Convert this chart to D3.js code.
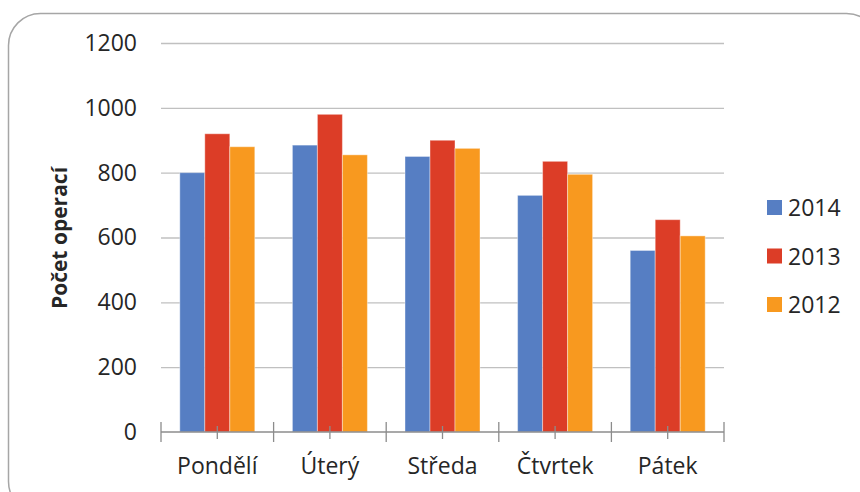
<!DOCTYPE html>
<html>
<head>
<meta charset="utf-8">
<script src="https://d3js.org/d3.v7.min.js"></script>
<style>
  body { margin: 0; background: #fff; }
  text { font-family: "Open Sans", sans-serif; fill: #262626; }
</style>
</head>
<body>
<script>
var days = ["Pondělí", "Úterý", "Středa", "Čtvrtek", "Pátek"];
var years = ["2014", "2013", "2012"];
var values2014 = [800, 885, 850, 730, 560];
var values2013 = [920, 980, 900, 835, 655];
var values2012 = [880, 855, 875, 795, 605];
var yTicks = [0, 200, 400, 600, 800, 1000, 1200];
var colors = ["#567ec3", "#dc3d27", "#f8991f"];

var width = 860, height = 492;
var plotLeft = 161, plotRight = 724, plotTop = 43, plotBottom = 432;

var svg = d3.select("body").append("svg")
  .attr("width", width)
  .attr("height", height);

// chart frame
svg.append("rect")
  .attr("x", 8.5).attr("y", 13.5)
  .attr("width", 870).attr("height", 500)
  .attr("rx", 32).attr("ry", 32)
  .attr("fill", "none")
  .attr("stroke", "#a6a6a6")
  .attr("stroke-width", 1.5);

var x = d3.scaleBand().domain(days).range([plotLeft, plotRight]).paddingInner(0).paddingOuter(0);
var xInner = d3.scaleBand().domain(years).range([0, 75]);
var y = d3.scaleLinear().domain([0, 1200]).range([plotBottom, plotTop]);

// gridlines
svg.append("g").selectAll("line")
  .data(yTicks.filter(function(d){ return d > 0; }))
  .enter().append("line")
  .attr("x1", plotLeft).attr("x2", plotRight)
  .attr("y1", function(d){ return y(d) + 0.5; })
  .attr("y2", function(d){ return y(d) + 0.5; })
  .attr("stroke", "#c0c0c0")
  .attr("stroke-width", 1.3);

// y labels
var yAxis = d3.axisLeft(y).tickValues(yTicks).tickFormat(d3.format("d")).tickSize(0).tickPadding(24);
var yg = svg.append("g").attr("transform", "translate(" + plotLeft + ",0)").call(yAxis);
yg.select(".domain").remove();
yg.selectAll("text")
  .attr("font-size", 23)
  .attr("font-family", "Open Sans, sans-serif")
  .attr("fill", "#262626");

// bars
var series = [values2014, values2013, values2012];
var groups = svg.append("g").selectAll("g")
  .data(series)
  .enter().append("g")
  .attr("fill", function(d, i){ return colors[i]; });

groups.selectAll("rect")
  .data(function(d, i){ return d.map(function(v, j){ return {day: days[j], year: years[i], v: v}; }); })
  .enter().append("rect")
  .attr("x", function(d){ return x(d.day) + (x.bandwidth() - 75) / 2 + xInner(d.year); })
  .attr("width", xInner.bandwidth())
  .attr("y", function(d){ return y(d.v); })
  .attr("height", function(d){ return y(0) - y(d.v); })
  .attr("stroke", "#ffffff")
  .attr("stroke-opacity", 0.4)
  .attr("stroke-width", 1);

// x axis line + ticks
var xg = svg.append("g");
xg.append("line")
  .attr("x1", plotLeft).attr("x2", plotRight)
  .attr("y1", plotBottom).attr("y2", plotBottom)
  .attr("stroke", "#8c8c8c").attr("stroke-width", 1.5);

var edges = days.map(function(d){ return x(d); }).concat([plotRight]);
xg.selectAll("line.edge")
  .data(edges).enter().append("line")
  .attr("class", "edge")
  .attr("x1", function(d){ return d; }).attr("x2", function(d){ return d; })
  .attr("y1", plotBottom - 10).attr("y2", plotBottom + 10)
  .attr("stroke", "#8c8c8c").attr("stroke-width", 1.3);

xg.selectAll("line.mid")
  .data(days).enter().append("line")
  .attr("class", "mid")
  .attr("x1", function(d){ return x(d) + x.bandwidth() / 2; })
  .attr("x2", function(d){ return x(d) + x.bandwidth() / 2; })
  .attr("y1", plotBottom - 6).attr("y2", plotBottom + 7)
  .attr("stroke", "#8c8c8c").attr("stroke-width", 1.3);

xg.selectAll("text")
  .data(days).enter().append("text")
  .attr("x", function(d){ return x(d) + x.bandwidth() / 2; })
  .attr("y", 474)
  .attr("text-anchor", "middle")
  .attr("font-size", 23)
  .text(function(d){ return d; });

// y title
svg.append("text")
  .attr("transform", "translate(67,238) rotate(-90)")
  .attr("text-anchor", "middle")
  .attr("font-size", 21)
  .attr("font-weight", "bold")
  .text("Počet operací");

// legend
var legend = svg.append("g").selectAll("g")
  .data(years).enter().append("g")
  .attr("transform", function(d, i){ return "translate(767," + (200 + i * 48.5) + ")"; });

legend.append("rect")
  .attr("width", 15).attr("height", 15)
  .attr("fill", function(d, i){ return colors[i]; });

legend.append("text")
  .attr("x", 21).attr("y", 16)
  .attr("font-size", 23)
  .text(function(d){ return d; });
</script>
</body>
</html>
